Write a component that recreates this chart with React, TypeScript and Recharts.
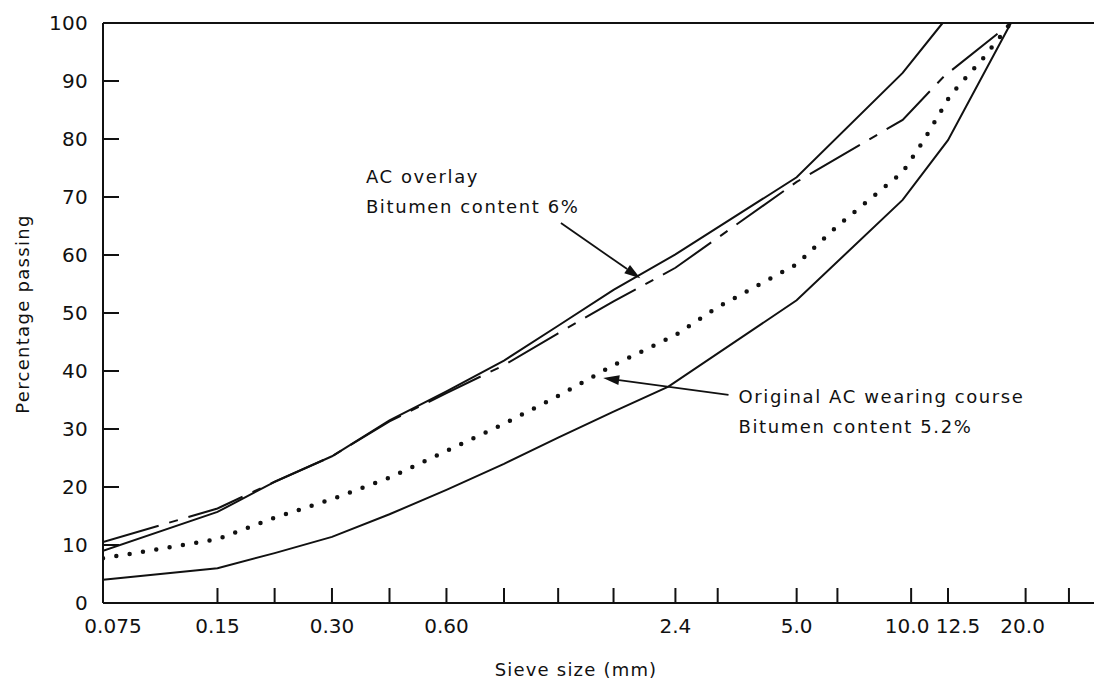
import { LineChart, Line, XAxis, YAxis, ReferenceLine } from "recharts";

const FONT = '"DejaVu Sans", Verdana, sans-serif';
const INK = "#111";

// sieve sizes (mm) marked on the log axis; only some carry a label
const xTicks = [0.075, 0.15, 0.212, 0.3, 0.425, 0.6, 0.85, 1.18, 1.65, 2.4, 3.1, 5.0, 6.4, 10.0, 12.5, 20.0, 26.0];
const xTickLabels: Record<string, string> = {
    "0.075": "0.075", "0.15": "0.15", "0.3": "0.30", "0.6": "0.60", "2.4": "2.4",
    "5": "5.0", "10": "10.0", "12.5": "12.5", "20": "20.0",
};
const yTicks = [0, 10, 20, 30, 40, 50, 60, 70, 80, 90, 100];

// grading envelope - upper limit
const upperSize = [0.075, 0.15, 0.212, 0.3, 0.425, 0.6, 0.85, 1.18, 1.65, 2.4, 5.0, 9.5, 12.1];
const upperPass = [9.0, 15.7, 20.9, 25.3, 31.5, 36.5, 41.8, 47.8, 54.0, 60.1, 73.4, 91.4, 100];

// grading envelope - lower limit
const lowerSize = [0.075, 0.15, 0.212, 0.3, 0.425, 0.6, 0.85, 1.18, 1.65, 2.3, 5.0, 9.5, 12.5, 18.3];
const lowerPass = [4.0, 6.0, 8.6, 11.4, 15.3, 19.5, 24.0, 28.5, 33.0, 37.3, 52.2, 69.5, 79.8, 100];

// AC overlay, bitumen 6% (dashed)
const overlaySize = [0.075, 0.15, 0.212, 0.3, 0.425, 0.6, 0.85, 1.18, 1.65, 2.4, 5.0, 9.5, 12.2, 18.3];
const overlayPass = [10.5, 16.3, 20.9, 25.3, 31.3, 36.2, 41.0, 46.5, 52.0, 57.8, 72.6, 83.3, 90.8, 100];

// original AC wearing course, bitumen 5.2% (dotted)
const originalSize = [0.075, 0.15, 0.212, 0.3, 0.425, 0.6, 0.85, 1.18, 1.65, 2.4, 3.1, 5.0, 6.4, 9.5, 10.8, 12.7, 15.5, 18.3];
const originalPass = [7.7, 11.0, 14.7, 17.9, 21.6, 26.2, 30.9, 35.7, 41.0, 46.2, 51.0, 58.4, 65.0, 74.3, 79.8, 87.6, 94.0, 100];

// annotation arrows: [tail, tip] as (size, passing)
const overlayArrow = [{ x: 1.2, y: 65.5 }, { x: 1.94, y: 56.0 }];
const originalArrow = [{ x: 3.31, y: 35.9 }, { x: 1.55, y: 38.8 }];
const overlayNote = ["AC overlay", "Bitumen content 6%"];
const originalNote = ["Original AC wearing course", "Bitumen content 5.2%"];

const toRows = (xs: number[], ys: number[]) => xs.map((x, i) => ({ x, y: ys[i] }));

const textStyle = { fontFamily: FONT, fontSize: 18, letterSpacing: 1.6, fill: INK };

// labels squeezed together at the coarse end are shifted a bit in the original
const labelNudge: Record<string, number> = { "0.075": 10, "10.0": -4, "12.5": 10, "20.0": -3 };

function XTick(props: any) {
    const { x, y, payload } = props;
    const v = payload.value;
    const label = xTickLabels[String(v)];
    return (
        <g>
            {v > xTicks[0] && <line x1={x} y1={y} x2={x} y2={y - 15} stroke={INK} strokeWidth={2} />}
            {label && (
                <text x={x + (labelNudge[label] || 0)} y={y + 30} textAnchor="middle"
                    style={{ fontFamily: FONT, fontSize: 20, fill: INK }}>
                    {label}
                </text>
            )}
        </g>
    );
}

function YTick(props: any) {
    const { x, y, payload } = props;
    const v = payload.value;
    return (
        <g>
            {v > 0 && v < 100 && <line x1={x} y1={y} x2={x + 16} y2={y} stroke={INK} strokeWidth={2} />}
            <text x={x - 15} y={y} dy="0.36em" textAnchor="end"
                style={{ fontFamily: FONT, fontSize: 20, letterSpacing: 0.3, fill: INK }}>
                {v}
            </text>
        </g>
    );
}

// arrow from tail to tip with its note anchored at the tail
const arrowShape = (lines: string[], dx: number, dy: number) => (p: any) => {
    const { x1, y1, x2, y2 } = p;
    const a = Math.atan2(y2 - y1, x2 - x1);
    const len = 16, half = 5;
    const bx = x2 - len * Math.cos(a), by = y2 - len * Math.sin(a);
    const pts = `${x2},${y2} ${bx - half * Math.sin(a)},${by + half * Math.cos(a)} ${bx + half * Math.sin(a)},${by - half * Math.cos(a)}`;
    return (
        <g>
            <line x1={x1} y1={y1} x2={bx} y2={by} stroke={INK} strokeWidth={1.8} />
            <polygon points={pts} fill={INK} />
            {lines.map((t, i) => (
                <text key={t} x={x1 + dx} y={y1 + dy + i * 30} style={textStyle}>{t}</text>
            ))}
        </g>
    );
};

export default function App() {
    return (
        <LineChart width={1094} height={678} margin={{ top: 15, right: 4, bottom: 43, left: 35 }}>
            <XAxis type="number" dataKey="x" scale="log" domain={[0.075, 31]} allowDataOverflow
                ticks={xTicks} interval={0} tickSize={0} tickMargin={0} tickLine={false}
                axisLine={{ stroke: INK, strokeWidth: 2 }} tick={<XTick />} height={40} />
            <YAxis type="number" domain={[0, 100]} ticks={yTicks} interval={0} tickSize={0} tickMargin={0}
                tickLine={false} axisLine={{ stroke: INK, strokeWidth: 2 }} tick={<YTick />} width={60} />

            <ReferenceLine y={100} stroke={INK} strokeWidth={2} />
            <ReferenceLine x={31} stroke={INK} strokeWidth={2} />

            <Line data={toRows(upperSize, upperPass)} dataKey="y" type="linear" stroke={INK} strokeWidth={2}
                dot={false} isAnimationActive={false} />
            <Line data={toRows(lowerSize, lowerPass)} dataKey="y" type="linear" stroke={INK} strokeWidth={2}
                dot={false} isAnimationActive={false} />
            <Line data={toRows(overlaySize, overlayPass)} dataKey="y" type="linear" stroke={INK} strokeWidth={2}
                strokeDasharray="58 11 9 11" dot={false} isAnimationActive={false} />
            <Line data={toRows(originalSize, originalPass)} dataKey="y" type="linear" stroke={INK} strokeWidth={4.5}
                strokeDasharray="0 13.5" strokeLinecap="round" dot={false} isAnimationActive={false} />

            <ReferenceLine segment={overlayArrow} shape={arrowShape(overlayNote, -195, -40)} />
            <ReferenceLine segment={originalArrow} shape={arrowShape(originalNote, 10, 8)} />

            <text x={568} y={668} textAnchor="middle" style={{ ...textStyle, letterSpacing: 1.2 }}>Sieve size (mm)</text>
            <text x={14} y={306} transform="rotate(-90, 14, 306)" textAnchor="middle" dominantBaseline="central"
                style={{ ...textStyle, letterSpacing: 1.3 }}>Percentage passing</text>
        </LineChart>
    );
}
